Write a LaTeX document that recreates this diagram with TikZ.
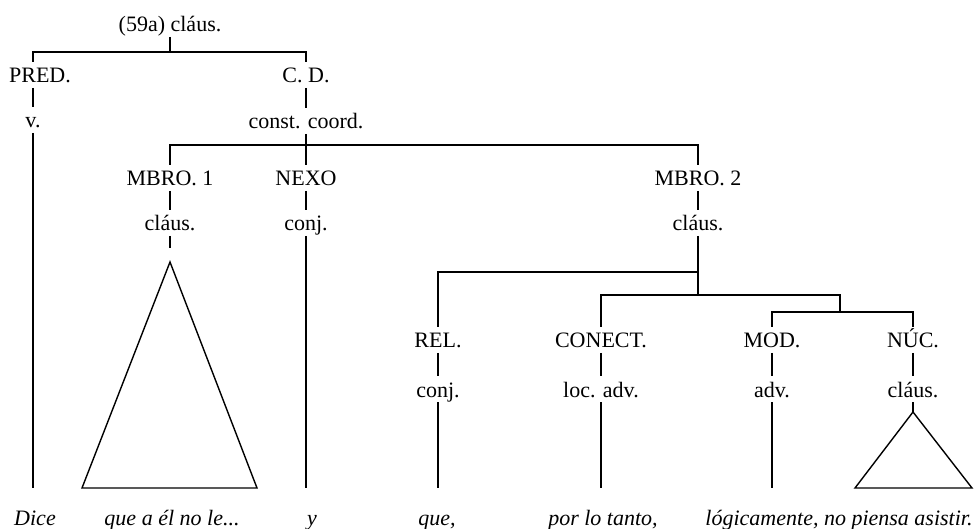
\documentclass[tikz,border=0pt]{standalone}
\usepackage{fontspec}
\setmainfont{Liberation Serif}
\begin{document}
\begin{tikzpicture}[x=0.5pt, y=-0.5pt, line width=0.7pt,
    lbl/.style={inner sep=0pt, outer sep=0pt, text height=10.5pt, text depth=2.5pt, anchor=base},
    leaf/.style={inner sep=0pt, anchor=base, font=\fontsize{11}{13}\itshape}]
    \useasboundingbox (0,0) rectangle (975,529);
    \fontsize{11}{13}\selectfont
    \node[lbl] (root) at (170,32) {(59a) cláus.};
    \node[lbl] (pred) at (40,83) {PRED.};
    \node[lbl] (cd) at (306,83) {C. D.};
    \node[lbl] (v) at (33,128) {v.};
    \node[lbl] (coord) at (306,129) {const. coord.};
    \node[lbl] (mbro1) at (170,186) {MBRO. 1};
    \node[lbl] (nexo) at (306,186) {NEXO};
    \node[lbl] (mbro2) at (698,186) {MBRO. 2};
    \node[lbl] (claus1) at (170,231) {cláus.};
    \node[lbl] (conj1) at (306,231) {conj.};
    \node[lbl] (claus2) at (698,231) {cláus.};
    \node[lbl] (rel) at (438,348) {REL.};
    \node[lbl] (conect) at (601,348) {CONECT.};
    \node[lbl] (mod) at (772,348) {MOD.};
    \node[lbl] (nuc) at (913,348) {NÚC.};
    \node[lbl] (conj2) at (438,397) {conj.};
    \node[lbl] (locadv) at (601,397) {loc. adv.};
    \node[lbl] (adv) at (772,397) {adv.};
    \node[lbl] (claus3) at (913,397) {cláus.};

    \node[leaf] (dice) at (35,525) {Dice};
    \node[leaf] (quea) at (172,525) {que a él no le...};
    \node[leaf] (y) at (312,525) {y};
    \node[leaf] (que) at (437,525) {que,};
    \node[leaf] (portanto) at (603,525) {por lo tanto,};
    \node[leaf] (logic) at (839,525) {lógicamente, no piensa asistir.};

    \coordinate (bar0) at (0,52);
    \coordinate (bar1) at (0,145);
    \coordinate (bar2) at (0,272);
    \coordinate (split) at (840,295);
    \coordinate (split2) at (840,312);
    \coordinate (ground) at (0,488);
    \coordinate (apex1) at (170,262);
    \coordinate (apex2) at (913,412);

    % brackets
    \draw (root.south) -- (root |- bar0);
    \draw (v |- pred.north) -- (v |- bar0) -- (cd |- bar0) -- (cd.north);
    \draw (coord.south) -- (nexo.north);
    \draw (mbro1.north) |- (mbro2 |- bar1) -- (mbro2.north);
    \draw (claus2.south) -- (claus2 |- split);
    \draw (rel.north) |- (claus2 |- bar2);
    \draw (conect.north) |- (split) -- (split2);
    \draw (mod.north) |- (split2) -| (nuc.north);

    \foreach \a/\b in {pred/v, cd/coord, mbro1/claus1, nexo/conj1, mbro2/claus2, rel/conj2, conect/locadv, mod/adv, nuc/claus3}
      { \draw (\b.north |- \a.south) -- (\b.north); }
    \foreach \n in {v, conj1, conj2, locadv, adv}
      { \draw (\n.south) -- (\n |- ground); }

    % triangles
    \draw (claus1.south) -- ++(0,12);
    \draw (apex1) -- ++(-88,226) -- ++(175,0) -- cycle;
    \draw (claus3.south) -- (apex2);
    \draw (apex2) -- ++(-58,76) -- ++(117,0) -- cycle;
  \end{tikzpicture}
\end{document}
